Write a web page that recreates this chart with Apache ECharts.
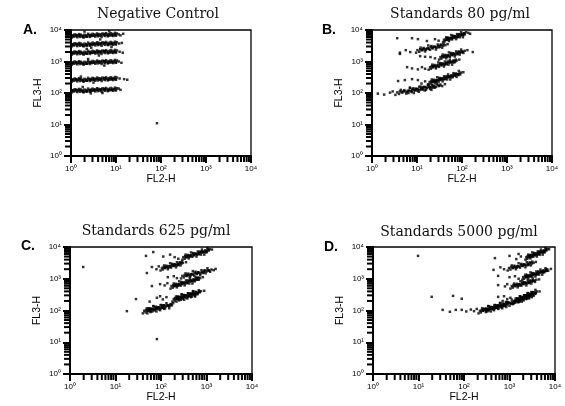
<!DOCTYPE html>
<html>
<head>
<meta charset="utf-8">
<script src="https://cdn.jsdelivr.net/npm/echarts@6/dist/echarts.min.js"></script>
<style>
  html, body { margin: 0; padding: 0; background: #fff; }
  #chart { width: 565px; height: 406px; }
</style>
</head>
<body>
<div id="chart"></div>
<script>
// Four flow-cytometry dot plots, FL2-H vs FL3-H on four-decade log scales.
// Every event is stored as [log10 FL2-H, log10 FL3-H].

const panelTitles = ['Negative Control', 'Standards 80 pg/ml', 'Standards 625 pg/ml', 'Standards 5000 pg/ml'];
const panelLetters = ['A.', 'B.', 'C.', 'D.'];
const decadeTicks = [0, 1, 2, 3, 4];
const decadeLabels = ['10\u2070', '10\u00B9', '10\u00B2', '10\u00B3', '10\u2074'];
const minorMultipliers = [2, 3, 4, 5, 6, 7, 8, 9];
const xAxisName = 'FL2-H';
const yAxisName = 'FL3-H';

// A. negative control: six bead populations, all low on FL2
const negControl = [
  // population 1
  [0.02,3.76],[0.04,3.83],[0.06,3.79],[0.08,3.86],[0.10,3.80],[0.12,3.84],[0.14,3.77],[0.16,3.82],[0.18,3.87],[0.20,3.78],[0.22,3.85],[0.24,3.80],[0.26,3.82],[0.28,3.76],[0.30,3.85],[0.32,3.79],[0.34,3.83],[0.36,3.79],[0.38,3.88],[0.40,3.83],[0.42,3.78],[0.44,3.85],[0.46,3.81],[0.48,3.88],[0.50,3.82],[0.52,3.86],[0.54,3.79],[0.56,3.84],[0.58,3.89],[0.60,3.80],[0.62,3.87],[0.64,3.82],[0.66,3.84],[0.68,3.78],[0.70,3.89],[0.72,3.83],[0.74,3.87],[0.76,3.81],[0.78,3.90],[0.80,3.85],[0.82,3.80],[0.84,3.87],[0.86,3.83],[0.88,3.90],[0.90,3.84],[0.92,3.88],[0.94,3.81],[0.96,3.86],[0.98,3.91],[1.00,3.82],[1.02,3.89],
  [0.03,3.82],[0.11,3.84],[0.19,3.83],[0.27,3.78],[0.35,3.79],[0.43,3.82],[0.51,3.83],[0.59,3.84],[0.67,3.86],[0.75,3.87],[0.83,3.82],[0.91,3.83],[0.99,3.84],
  [1.06,3.86],[1.10,3.83],[1.16,3.88],[0.30,3.95],[0.65,3.70],[0.85,3.96],
  // population 2
  [0.02,3.48],[0.04,3.55],[0.06,3.51],[0.08,3.58],[0.10,3.52],[0.12,3.56],[0.14,3.49],[0.16,3.54],[0.18,3.59],[0.20,3.50],[0.22,3.57],[0.24,3.52],[0.26,3.54],[0.28,3.48],[0.30,3.57],[0.32,3.51],[0.34,3.55],[0.36,3.51],[0.38,3.60],[0.40,3.55],[0.42,3.50],[0.44,3.57],[0.46,3.53],[0.48,3.60],[0.50,3.54],[0.52,3.58],[0.54,3.51],[0.56,3.56],[0.58,3.61],[0.60,3.52],[0.62,3.59],[0.64,3.54],[0.66,3.56],[0.68,3.50],[0.70,3.61],[0.72,3.55],[0.74,3.59],[0.76,3.53],[0.78,3.62],[0.80,3.57],[0.82,3.52],[0.84,3.59],[0.86,3.55],[0.88,3.62],[0.90,3.56],[0.92,3.60],[0.94,3.53],[0.96,3.58],[0.98,3.63],[1.00,3.54],[1.02,3.61],
  [0.03,3.54],[0.11,3.56],[0.19,3.55],[0.27,3.50],[0.35,3.51],[0.43,3.54],[0.51,3.55],[0.59,3.56],[0.67,3.58],[0.75,3.59],[0.83,3.54],[0.91,3.55],[0.99,3.56],
  [1.07,3.57],[1.13,3.59],[0.45,3.44],[0.90,3.46],
  // population 3
  [0.02,3.22],[0.04,3.29],[0.06,3.25],[0.08,3.32],[0.10,3.26],[0.12,3.30],[0.14,3.23],[0.16,3.28],[0.18,3.33],[0.20,3.24],[0.22,3.31],[0.24,3.26],[0.26,3.28],[0.28,3.22],[0.30,3.31],[0.32,3.25],[0.34,3.29],[0.36,3.25],[0.38,3.34],[0.40,3.29],[0.42,3.24],[0.44,3.31],[0.46,3.27],[0.48,3.34],[0.50,3.28],[0.52,3.32],[0.54,3.25],[0.56,3.30],[0.58,3.35],[0.60,3.26],[0.62,3.33],[0.64,3.28],[0.66,3.30],[0.68,3.24],[0.70,3.35],[0.72,3.29],[0.74,3.33],[0.76,3.27],[0.78,3.36],[0.80,3.31],[0.82,3.26],[0.84,3.33],[0.86,3.29],[0.88,3.36],[0.90,3.30],[0.92,3.34],[0.94,3.27],[0.96,3.32],[0.98,3.37],[1.00,3.28],[1.02,3.35],
  [0.03,3.28],[0.11,3.30],[0.19,3.29],[0.27,3.24],[0.35,3.25],[0.43,3.28],[0.51,3.29],[0.59,3.30],[0.67,3.32],[0.75,3.33],[0.83,3.28],[0.91,3.29],[0.99,3.30],
  [1.08,3.31],[1.15,3.28],[0.62,3.19],[0.35,3.40],
  // population 4
  [0.02,2.90],[0.04,2.97],[0.06,2.93],[0.08,3.00],[0.10,2.94],[0.12,2.98],[0.14,2.91],[0.16,2.96],[0.18,3.01],[0.20,2.92],[0.22,2.99],[0.24,2.94],[0.26,2.96],[0.28,2.90],[0.30,2.99],[0.32,2.93],[0.34,2.97],[0.36,2.93],[0.38,3.02],[0.40,2.97],[0.42,2.92],[0.44,2.99],[0.46,2.95],[0.48,3.02],[0.50,2.96],[0.52,3.00],[0.54,2.93],[0.56,2.98],[0.58,3.03],[0.60,2.94],[0.62,3.01],[0.64,2.96],[0.66,2.98],[0.68,2.92],[0.70,3.03],[0.72,2.97],[0.74,3.01],[0.76,2.95],[0.78,3.04],[0.80,2.99],[0.82,2.94],[0.84,3.01],[0.86,2.97],[0.88,3.04],[0.90,2.98],[0.92,3.02],[0.94,2.95],[0.96,3.00],[0.98,3.05],[1.00,2.96],[1.02,3.03],
  [0.03,2.96],[0.11,2.98],[0.19,2.97],[0.27,2.92],[0.35,2.93],[0.43,2.96],[0.51,2.97],[0.59,2.98],[0.67,3.00],[0.75,3.01],[0.83,2.96],[0.91,2.97],[0.99,2.98],
  [1.06,3.00],[1.12,2.96],[0.74,2.87],[0.38,3.08],
  // population 5
  [0.02,2.36],[0.04,2.43],[0.06,2.39],[0.08,2.46],[0.10,2.40],[0.12,2.44],[0.14,2.37],[0.16,2.42],[0.18,2.47],[0.20,2.38],[0.22,2.45],[0.24,2.40],[0.26,2.42],[0.28,2.36],[0.30,2.45],[0.32,2.39],[0.34,2.43],[0.36,2.39],[0.38,2.48],[0.40,2.43],[0.42,2.38],[0.44,2.45],[0.46,2.41],[0.48,2.48],[0.50,2.42],[0.52,2.46],[0.54,2.39],[0.56,2.44],[0.58,2.49],[0.60,2.40],[0.62,2.47],[0.64,2.42],[0.66,2.44],[0.68,2.38],[0.70,2.49],[0.72,2.43],[0.74,2.47],[0.76,2.41],[0.78,2.50],[0.80,2.45],[0.82,2.40],[0.84,2.47],[0.86,2.43],[0.88,2.50],[0.90,2.44],[0.92,2.48],[0.94,2.41],[0.96,2.46],[0.98,2.51],[1.00,2.42],[1.02,2.49],
  [0.03,2.42],[0.11,2.44],[0.19,2.43],[0.27,2.38],[0.35,2.39],[0.43,2.42],[0.51,2.43],[0.59,2.44],[0.67,2.46],[0.75,2.47],[0.83,2.42],[0.91,2.43],[0.99,2.44],
  [1.08,2.46],[1.18,2.44],[1.25,2.42],[0.50,2.33],[0.22,2.52],
  // population 6
  [0.02,2.02],[0.04,2.09],[0.06,2.05],[0.08,2.12],[0.10,2.06],[0.12,2.10],[0.14,2.03],[0.16,2.08],[0.18,2.13],[0.20,2.04],[0.22,2.11],[0.24,2.06],[0.26,2.08],[0.28,2.02],[0.30,2.11],[0.32,2.05],[0.34,2.09],[0.36,2.05],[0.38,2.14],[0.40,2.09],[0.42,2.04],[0.44,2.11],[0.46,2.07],[0.48,2.14],[0.50,2.08],[0.52,2.12],[0.54,2.05],[0.56,2.10],[0.58,2.15],[0.60,2.06],[0.62,2.13],[0.64,2.08],[0.66,2.10],[0.68,2.04],[0.70,2.15],[0.72,2.09],[0.74,2.13],[0.76,2.07],[0.78,2.16],[0.80,2.11],[0.82,2.06],[0.84,2.13],[0.86,2.09],[0.88,2.16],[0.90,2.10],[0.92,2.14],[0.94,2.07],[0.96,2.12],[0.98,2.17],[1.00,2.08],[1.02,2.15],
  [0.03,2.08],[0.11,2.10],[0.19,2.09],[0.27,2.04],[0.35,2.05],[0.43,2.08],[0.51,2.09],[0.59,2.10],[0.67,2.12],[0.75,2.13],[0.83,2.08],[0.91,2.09],[0.99,2.10],
  [1.10,2.10],[1.06,2.14],[0.44,1.99],[0.70,2.00],[0.26,2.19],
  // stray event
  [1.91,1.04]
];

// B. 80 pg/ml standards
const std80 = [
  [1.58,3.61],[1.60,3.69],[1.62,3.64],[1.65,3.77],[1.67,3.69],[1.69,3.76],[1.71,3.65],[1.73,3.74],[1.76,3.84],[1.78,3.70],[1.80,3.82],[1.82,3.75],[1.84,3.80],[1.87,3.71],[1.89,3.87],[1.91,3.78],[1.93,3.86],[1.95,3.77],[1.98,3.93],[2.00,3.85],[2.02,3.77],[2.04,3.90],[2.06,3.86],[2.09,3.93],
  [1.64,3.72],[1.66,3.69],[1.68,3.73],[1.70,3.72],[1.72,3.70],[1.75,3.75],[1.77,3.73],[1.79,3.79],[1.81,3.76],[1.83,3.80],[1.86,3.79],[1.88,3.77],[1.90,3.82],[1.92,3.80],[1.94,3.86],[1.97,3.83],[1.99,3.87],[2.01,3.86],[2.03,3.84],[2.05,3.89],
  [0.56,3.74],[0.89,3.74],[1.02,3.71],[1.22,3.65],[1.40,3.71],[1.48,3.66],[2.14,3.91],[2.18,3.88],

  [0.98,3.28],[1.01,3.36],[1.05,3.31],[1.08,3.44],[1.12,3.36],[1.15,3.43],[1.18,3.32],[1.22,3.41],[1.25,3.51],[1.29,3.37],[1.32,3.49],[1.35,3.42],[1.39,3.47],[1.42,3.38],[1.46,3.54],[1.49,3.45],[1.52,3.53],[1.56,3.44],[1.59,3.56],[1.63,3.52],
  [1.07,3.39],[1.10,3.36],[1.13,3.40],[1.17,3.39],[1.20,3.37],[1.24,3.42],[1.27,3.40],[1.30,3.46],[1.34,3.43],[1.37,3.47],[1.41,3.46],[1.44,3.44],[1.47,3.49],[1.51,3.47],[1.54,3.53],[1.58,3.50],
  [0.62,3.28],[0.75,3.36],[0.85,3.30],[1.68,3.55],

  [1.49,3.06],[1.52,3.14],[1.54,3.09],[1.57,3.22],[1.60,3.14],[1.63,3.21],[1.65,3.10],[1.68,3.19],[1.71,3.29],[1.73,3.15],[1.76,3.27],[1.79,3.20],[1.81,3.25],[1.84,3.16],[1.87,3.32],[1.90,3.23],[1.92,3.31],[1.95,3.22],[1.98,3.38],[2.00,3.30],[2.03,3.27],[2.06,3.34],
  [1.56,3.17],[1.58,3.14],[1.61,3.18],[1.64,3.17],[1.67,3.15],[1.69,3.20],[1.72,3.18],[1.75,3.24],[1.77,3.21],[1.80,3.25],[1.83,3.24],[1.85,3.22],[1.88,3.27],[1.91,3.25],[1.94,3.31],[1.96,3.28],[1.99,3.32],[2.02,3.31],
  [0.62,3.24],[1.07,3.17],[1.18,3.15],[1.30,3.14],[1.40,3.10],[2.24,3.30],[2.12,3.36],

  [1.26,2.74],[1.29,2.82],[1.31,2.77],[1.34,2.90],[1.36,2.82],[1.39,2.89],[1.42,2.78],[1.44,2.87],[1.47,2.97],[1.49,2.83],[1.52,2.95],[1.55,2.88],[1.57,2.93],[1.60,2.84],[1.62,3.00],[1.65,2.91],[1.68,2.99],[1.70,2.90],[1.73,3.06],[1.75,2.98],[1.78,2.90],[1.81,3.03],[1.83,2.97],[1.86,3.06],[1.88,3.03],
  [1.33,2.85],[1.35,2.82],[1.38,2.86],[1.40,2.85],[1.43,2.83],[1.46,2.88],[1.48,2.86],[1.51,2.92],[1.53,2.89],[1.56,2.93],[1.59,2.92],[1.61,2.90],[1.64,2.95],[1.66,2.93],[1.69,2.99],[1.72,2.96],[1.74,3.00],[1.77,2.99],[1.79,2.97],[1.82,3.02],[1.85,3.00],
  [0.78,2.82],[0.89,2.78],[1.02,2.75],[1.11,2.82],[1.18,2.77],[1.94,3.06],

  [1.26,2.27],[1.28,2.35],[1.31,2.30],[1.33,2.43],[1.36,2.35],[1.38,2.42],[1.40,2.31],[1.43,2.40],[1.45,2.50],[1.48,2.36],[1.50,2.48],[1.52,2.41],[1.55,2.46],[1.57,2.37],[1.60,2.53],[1.62,2.44],[1.64,2.52],[1.67,2.43],[1.69,2.59],[1.72,2.51],[1.74,2.43],[1.76,2.56],[1.79,2.50],[1.81,2.63],[1.84,2.55],[1.86,2.62],[1.88,2.51],[1.91,2.60],[1.93,2.70],[1.96,2.59],[1.98,2.65],
  [1.32,2.38],[1.34,2.35],[1.37,2.39],[1.39,2.38],[1.42,2.36],[1.44,2.41],[1.46,2.39],[1.49,2.45],[1.51,2.42],[1.54,2.46],[1.56,2.45],[1.58,2.43],[1.61,2.48],[1.63,2.46],[1.66,2.52],[1.68,2.49],[1.70,2.53],[1.73,2.52],[1.75,2.50],[1.78,2.55],[1.80,2.53],[1.82,2.59],[1.85,2.56],[1.87,2.60],[1.90,2.59],[1.92,2.57],[1.94,2.62],
  [0.58,2.38],[0.73,2.41],[0.89,2.44],[1.02,2.41],[1.18,2.37],[1.10,2.30],[2.03,2.66],

  [0.52,1.94],[0.56,2.02],[0.60,1.97],[0.64,2.10],[0.68,2.02],[0.72,2.09],[0.76,1.98],[0.80,2.07],[0.84,2.17],[0.88,2.03],[0.92,2.15],[0.96,2.08],[1.00,2.13],[1.04,2.04],[1.08,2.20],[1.12,2.11],[1.16,2.19],[1.20,2.10],[1.24,2.26],[1.28,2.18],[1.32,2.10],[1.36,2.23],[1.40,2.17],[1.44,2.30],[1.48,2.22],[1.52,2.27],[1.56,2.22],
  [0.62,2.05],[0.66,2.02],[0.70,2.06],[0.74,2.05],[0.78,2.03],[0.82,2.08],[0.86,2.06],[0.90,2.12],[0.94,2.09],[0.98,2.13],[1.02,2.12],[1.06,2.10],[1.10,2.15],[1.14,2.13],[1.18,2.19],[1.22,2.16],[1.26,2.20],[1.30,2.19],[1.34,2.17],[1.38,2.22],[1.42,2.20],[1.46,2.26],[1.50,2.23],
  [0.81,2.00],[0.85,2.16],[0.89,2.08],[0.93,2.00],[0.97,2.13],[1.01,2.07],[1.05,2.20],[1.09,2.12],[1.13,2.19],[1.17,2.08],[1.21,2.17],[1.25,2.27],[1.29,2.13],[1.33,2.25],[1.37,2.18],
  [0.13,1.98],[0.27,1.95],[0.40,2.01],[0.46,2.05],[1.62,2.28]
];

// C. 625 pg/ml standards
const std625 = [
  [2.47,3.60],[2.49,3.68],[2.52,3.63],[2.54,3.76],[2.57,3.68],[2.59,3.75],[2.61,3.64],[2.64,3.73],[2.66,3.83],[2.69,3.69],[2.71,3.81],[2.73,3.74],[2.76,3.79],[2.78,3.70],[2.81,3.86],[2.83,3.77],[2.85,3.85],[2.88,3.76],[2.90,3.92],[2.93,3.84],[2.95,3.76],[2.97,3.89],[3.00,3.83],[3.02,3.96],[3.05,3.89],[3.07,3.93],
  [2.53,3.71],[2.55,3.68],[2.58,3.72],[2.60,3.71],[2.63,3.69],[2.65,3.74],[2.67,3.72],[2.70,3.78],[2.72,3.75],[2.75,3.79],[2.77,3.78],[2.79,3.76],[2.82,3.81],[2.84,3.79],[2.87,3.85],[2.89,3.82],[2.91,3.86],[2.94,3.85],[2.96,3.83],[2.99,3.88],[3.01,3.86],[3.03,3.92],
  [1.67,3.72],[1.83,3.84],[2.05,3.70],[2.20,3.76],[2.30,3.68],[2.38,3.63],[3.12,3.92],

  [1.99,3.26],[2.02,3.34],[2.04,3.29],[2.07,3.42],[2.09,3.34],[2.12,3.41],[2.15,3.30],[2.17,3.39],[2.20,3.49],[2.22,3.35],[2.25,3.47],[2.28,3.40],[2.30,3.45],[2.33,3.36],[2.35,3.52],[2.38,3.43],[2.41,3.51],[2.43,3.42],[2.46,3.54],[2.48,3.50],
  [2.06,3.37],[2.08,3.34],[2.11,3.38],[2.13,3.37],[2.16,3.35],[2.19,3.40],[2.21,3.38],[2.24,3.44],[2.26,3.41],[2.29,3.45],[2.32,3.44],[2.34,3.42],[2.37,3.47],[2.39,3.45],[2.42,3.51],[2.45,3.48],
  [1.69,3.18],[1.80,3.37],[1.90,3.30],[1.95,3.39],[2.55,3.52],

  [2.44,3.01],[2.47,3.09],[2.50,3.04],[2.54,3.17],[2.57,3.09],[2.60,3.16],[2.63,3.05],[2.66,3.14],[2.70,3.24],[2.73,3.10],[2.76,3.22],[2.79,3.15],[2.82,3.20],[2.86,3.11],[2.89,3.27],[2.92,3.18],[2.95,3.26],[2.98,3.17],[3.02,3.33],[3.05,3.25],[3.08,3.22],[3.11,3.29],
  [2.52,3.12],[2.55,3.09],[2.58,3.13],[2.62,3.12],[2.65,3.10],[2.68,3.15],[2.71,3.13],[2.74,3.19],[2.78,3.16],[2.81,3.20],[2.84,3.19],[2.87,3.17],[2.90,3.22],[2.94,3.20],[2.97,3.26],[3.00,3.23],[3.03,3.27],[3.06,3.26],
  [2.15,3.05],[2.28,3.08],[2.35,3.02],[3.16,3.27],[3.20,3.31],

  [2.21,2.69],[2.23,2.77],[2.26,2.72],[2.28,2.85],[2.31,2.77],[2.33,2.84],[2.35,2.73],[2.38,2.82],[2.40,2.92],[2.43,2.78],[2.45,2.90],[2.47,2.83],[2.50,2.88],[2.52,2.79],[2.55,2.95],[2.57,2.86],[2.59,2.94],[2.62,2.85],[2.64,3.01],[2.67,2.93],[2.69,2.85],[2.71,2.98],[2.74,2.92],[2.76,3.05],[2.79,2.97],[2.81,3.04],[2.83,2.97],[2.86,3.02],
  [2.27,2.80],[2.29,2.77],[2.32,2.81],[2.34,2.80],[2.37,2.78],[2.39,2.83],[2.41,2.81],[2.44,2.87],[2.46,2.84],[2.49,2.88],[2.51,2.87],[2.53,2.85],[2.56,2.90],[2.58,2.88],[2.61,2.94],[2.63,2.91],[2.65,2.95],[2.68,2.94],[2.70,2.92],[2.73,2.97],[2.75,2.95],[2.77,3.01],[2.80,2.98],[2.82,3.02],
  [1.80,2.77],[1.98,2.83],[2.08,2.79],[2.14,2.86],[2.92,3.05],

  [2.25,2.28],[2.28,2.36],[2.30,2.31],[2.33,2.44],[2.35,2.36],[2.38,2.43],[2.40,2.32],[2.43,2.41],[2.45,2.51],[2.48,2.37],[2.50,2.49],[2.53,2.42],[2.55,2.47],[2.58,2.38],[2.60,2.54],[2.63,2.45],[2.65,2.53],[2.68,2.44],[2.70,2.60],[2.73,2.52],[2.75,2.44],[2.78,2.57],[2.80,2.51],[2.83,2.64],[2.85,2.57],[2.88,2.61],
  [2.31,2.39],[2.34,2.36],[2.36,2.40],[2.39,2.39],[2.41,2.37],[2.44,2.42],[2.46,2.40],[2.49,2.46],[2.51,2.43],[2.54,2.47],[2.56,2.46],[2.59,2.44],[2.61,2.49],[2.64,2.47],[2.66,2.53],[2.69,2.50],[2.71,2.54],[2.74,2.53],[2.76,2.51],[2.79,2.56],[2.81,2.54],[2.84,2.60],
  [2.34,2.28],[2.36,2.44],[2.39,2.35],[2.41,2.43],[2.44,2.34],[2.46,2.50],[2.49,2.42],[2.51,2.34],[2.54,2.47],[2.56,2.41],[2.59,2.54],[2.61,2.46],[2.64,2.53],[2.66,2.42],[2.69,2.51],[2.71,2.61],[2.74,2.47],[2.76,2.59],
  [1.45,2.36],[1.75,2.28],[1.91,2.40],[2.04,2.35],[2.12,2.42],[1.98,2.45],[2.95,2.62],

  [1.60,1.91],[1.63,1.99],[1.66,1.94],[1.69,2.07],[1.72,1.99],[1.75,2.06],[1.77,1.95],[1.80,2.04],[1.83,2.14],[1.86,2.00],[1.89,2.12],[1.92,2.05],[1.95,2.10],[1.98,2.01],[2.01,2.17],[2.04,2.08],[2.06,2.16],[2.09,2.07],[2.12,2.23],[2.15,2.15],[2.18,2.07],[2.21,2.20],[2.24,2.16],[2.27,2.23],
  [1.67,2.02],[1.70,1.99],[1.73,2.03],[1.76,2.02],[1.79,2.00],[1.82,2.05],[1.85,2.03],[1.88,2.09],[1.90,2.06],[1.93,2.10],[1.96,2.09],[1.99,2.07],[2.02,2.12],[2.05,2.10],[2.08,2.16],[2.11,2.13],[2.14,2.17],[2.17,2.16],[2.19,2.14],[2.22,2.19],
  [1.70,1.91],[1.73,2.07],[1.76,1.98],[1.78,2.06],[1.81,1.97],[1.84,2.13],[1.87,2.05],[1.90,1.97],[1.93,2.10],[1.96,2.04],[1.99,2.17],[2.02,2.09],[2.05,2.16],[2.07,2.05],
  [0.29,3.37],[1.25,1.98],[1.91,1.10]
];

// D. 5000 pg/ml standards
const std5000 = [
  [3.35,3.60],[3.37,3.68],[3.39,3.63],[3.41,3.76],[3.43,3.68],[3.45,3.75],[3.46,3.64],[3.48,3.73],[3.50,3.83],[3.52,3.69],[3.54,3.81],[3.56,3.74],[3.58,3.79],[3.60,3.70],[3.62,3.86],[3.64,3.77],[3.65,3.85],[3.67,3.76],[3.69,3.92],[3.71,3.84],[3.73,3.76],[3.75,3.89],[3.77,3.83],[3.79,3.96],[3.81,3.89],[3.83,3.93],
  [3.40,3.71],[3.42,3.68],[3.44,3.72],[3.45,3.71],[3.47,3.69],[3.49,3.74],[3.51,3.72],[3.53,3.78],[3.55,3.75],[3.57,3.79],[3.59,3.78],[3.61,3.76],[3.63,3.81],[3.64,3.79],[3.66,3.85],[3.68,3.82],[3.70,3.86],[3.72,3.85],[3.74,3.83],[3.76,3.88],[3.78,3.86],[3.80,3.92],
  [2.68,3.65],[3.00,3.72],[3.15,3.62],[3.25,3.70],[3.20,3.78],[3.87,3.93],[0.99,3.72],

  [2.96,3.26],[2.99,3.34],[3.02,3.29],[3.05,3.42],[3.08,3.34],[3.11,3.41],[3.14,3.30],[3.17,3.39],[3.20,3.49],[3.23,3.35],[3.26,3.47],[3.29,3.40],[3.32,3.45],[3.35,3.36],[3.38,3.52],[3.41,3.43],[3.44,3.51],[3.47,3.42],[3.50,3.54],[3.53,3.50],
  [3.04,3.37],[3.07,3.34],[3.10,3.38],[3.13,3.37],[3.16,3.35],[3.19,3.40],[3.22,3.38],[3.25,3.44],[3.28,3.41],[3.31,3.45],[3.34,3.44],[3.37,3.42],[3.40,3.47],[3.43,3.45],[3.46,3.51],[3.49,3.48],
  [2.65,3.28],[2.80,3.36],[2.88,3.30],[3.58,3.53],

  [3.28,2.97],[3.30,3.05],[3.32,3.00],[3.35,3.13],[3.37,3.05],[3.39,3.12],[3.41,3.01],[3.43,3.10],[3.46,3.20],[3.48,3.06],[3.50,3.18],[3.52,3.11],[3.54,3.16],[3.57,3.07],[3.59,3.23],[3.61,3.14],[3.63,3.22],[3.65,3.13],[3.68,3.29],[3.70,3.21],[3.72,3.13],[3.74,3.26],[3.76,3.20],[3.79,3.33],[3.81,3.25],[3.83,3.30],[3.85,3.25],
  [3.34,3.08],[3.36,3.05],[3.38,3.09],[3.40,3.08],[3.42,3.06],[3.45,3.11],[3.47,3.09],[3.49,3.15],[3.51,3.12],[3.53,3.16],[3.56,3.15],[3.58,3.13],[3.60,3.18],[3.62,3.16],[3.64,3.22],[3.67,3.19],[3.69,3.23],[3.71,3.22],[3.73,3.20],[3.75,3.25],[3.78,3.23],[3.80,3.29],[3.82,3.26],
  [2.75,3.09],[3.00,3.05],[3.12,3.08],[3.20,3.00],[3.91,3.31],

  [3.02,2.69],[3.05,2.77],[3.07,2.72],[3.10,2.85],[3.13,2.77],[3.16,2.84],[3.18,2.73],[3.21,2.82],[3.24,2.92],[3.26,2.78],[3.29,2.90],[3.32,2.83],[3.34,2.88],[3.37,2.79],[3.40,2.95],[3.43,2.86],[3.45,2.94],[3.48,2.85],[3.51,3.01],[3.53,2.93],[3.56,2.90],[3.59,2.97],
  [3.09,2.80],[3.11,2.77],[3.14,2.81],[3.17,2.80],[3.20,2.78],[3.22,2.83],[3.25,2.81],[3.28,2.87],[3.30,2.84],[3.33,2.88],[3.36,2.87],[3.38,2.85],[3.41,2.90],[3.44,2.88],[3.47,2.94],[3.49,2.91],[3.52,2.95],[3.55,2.94],
  [2.75,2.80],[2.90,2.76],[2.95,2.83],[3.65,2.98],

  [3.09,2.22],[3.11,2.30],[3.12,2.25],[3.14,2.38],[3.16,2.30],[3.18,2.37],[3.19,2.26],[3.21,2.35],[3.23,2.45],[3.24,2.31],[3.26,2.43],[3.28,2.36],[3.29,2.41],[3.31,2.32],[3.33,2.48],[3.35,2.39],[3.36,2.47],[3.38,2.38],[3.40,2.54],[3.41,2.46],[3.43,2.38],[3.45,2.51],[3.46,2.45],[3.48,2.58],[3.50,2.50],[3.52,2.57],[3.53,2.46],[3.55,2.55],[3.57,2.65],[3.58,2.54],[3.60,2.60],
  [3.13,2.33],[3.15,2.30],[3.17,2.34],[3.18,2.33],[3.20,2.31],[3.22,2.36],[3.23,2.34],[3.25,2.40],[3.27,2.37],[3.29,2.41],[3.30,2.40],[3.32,2.38],[3.34,2.43],[3.35,2.41],[3.37,2.47],[3.39,2.44],[3.40,2.48],[3.42,2.47],[3.44,2.45],[3.46,2.50],[3.47,2.48],[3.49,2.54],[3.51,2.51],[3.52,2.55],[3.54,2.54],[3.56,2.52],[3.57,2.57],
  [3.17,2.38],[3.20,2.37],[3.23,2.44],[3.27,2.28],[3.30,2.35],[3.34,2.40],[3.37,2.36],[3.40,2.55],[3.44,2.53],[3.47,2.51],[3.51,2.58],
  [3.18,2.29],[3.22,2.28],[3.25,2.36],[3.28,2.41],[3.32,2.48],[3.35,2.47],[3.38,2.45],[3.42,2.41],[3.45,2.46],[3.49,2.42],
  [2.75,2.43],[2.85,2.30],[2.95,2.36],[3.02,2.40],[2.88,2.45],[3.66,2.60],

  [2.32,1.91],[2.35,1.99],[2.37,1.94],[2.40,2.07],[2.42,1.99],[2.45,2.06],[2.48,1.95],[2.50,2.04],[2.53,2.14],[2.55,2.00],[2.58,2.12],[2.61,2.05],[2.63,2.10],[2.66,2.01],[2.68,2.17],[2.71,2.08],[2.74,2.16],[2.76,2.07],[2.79,2.23],[2.81,2.15],[2.84,2.07],[2.87,2.20],[2.89,2.14],[2.92,2.27],[2.94,2.19],[2.97,2.26],[3.00,2.15],[3.02,2.24],[3.05,2.34],[3.07,2.20],[3.10,2.29],[3.13,2.26],
  [2.39,2.02],[2.41,1.99],[2.44,2.03],[2.46,2.02],[2.49,2.00],[2.52,2.05],[2.54,2.03],[2.57,2.09],[2.59,2.06],[2.62,2.10],[2.65,2.09],[2.67,2.07],[2.70,2.12],[2.72,2.10],[2.75,2.16],[2.78,2.13],[2.80,2.17],[2.83,2.16],[2.85,2.14],[2.88,2.19],[2.91,2.17],[2.93,2.23],[2.96,2.20],[2.98,2.24],[3.01,2.23],[3.04,2.21],[3.06,2.26],[3.09,2.24],
  [2.49,2.06],[2.51,1.97],[2.54,2.13],[2.56,2.05],[2.59,1.97],[2.62,2.10],[2.64,2.04],[2.67,2.17],[2.69,2.09],[2.72,2.16],[2.75,2.05],[2.77,2.14],[2.80,2.24],[2.82,2.10],[2.85,2.22],[2.88,2.15],[2.90,2.20],[2.93,2.11],[2.95,2.27],
  [2.05,1.97],[2.15,2.03],[2.22,1.98],[2.28,2.05],[3.20,2.27],
  [1.29,2.43],[1.76,2.46],[1.95,2.37],[1.53,2.02],[1.69,1.96],[1.82,2.02],[1.95,2.02]
];

const panelData = [negControl, std80, std625, std5000];

// Minor tick positions inside each decade (2x..9x)
const minorTickPos = [];
decadeTicks.slice(0, 4).forEach(function (d) {
  minorMultipliers.forEach(function (m) { minorTickPos.push(d + Math.log10(m)); });
});

const grids = [
  { left: 71, top: 30, width: 180, height: 126 },
  { left: 372, top: 30, width: 180, height: 126 },
  { left: 70, top: 247, width: 182, height: 127 },
  { left: 373, top: 247, width: 182, height: 127 }
];
const titlePos = [[158, 14], [460, 14], [156, 231], [459, 232]];
const letterPos = [[23, 30], [322, 30], [21, 246], [324, 247]];

const INK = '#000';
const tickFont = { fontFamily: 'Liberation Sans', fontSize: 8, color: INK };
function decadeLabel(v) { return decadeLabels[Math.round(v)]; }

const option = {
  animation: false,
  backgroundColor: '#fff',
  grid: grids.map(function (g) {
    return Object.assign({ show: true, borderColor: INK, borderWidth: 1.3, containLabel: false }, g);
  }),
  xAxis: grids.map(function (g, i) {
    return {
      gridIndex: i, type: 'value', min: 0, max: 4, interval: 1,
      name: xAxisName, nameLocation: 'middle', nameGap: 15,
      nameTextStyle: { fontFamily: 'Liberation Sans', fontSize: 10.5, color: INK },
      axisLine: { lineStyle: { color: INK, width: 2 } },
      axisTick: { show: true, length: 7, lineStyle: { color: INK, width: 2 } },
      axisLabel: Object.assign({ margin: 9, formatter: decadeLabel }, tickFont),
      splitLine: { show: false }
    };
  }),
  yAxis: grids.map(function (g, i) {
    return {
      gridIndex: i, type: 'value', min: 0, max: 4, interval: 1,
      name: yAxisName, nameLocation: 'middle', nameGap: 27, nameRotate: 90,
      nameTextStyle: { fontFamily: 'Liberation Sans', fontSize: 10.5, color: INK },
      axisLine: { lineStyle: { color: INK, width: 2 } },
      axisTick: { show: true, length: 7, lineStyle: { color: INK, width: 2 } },
      axisLabel: Object.assign({ margin: 9, formatter: decadeLabel }, tickFont),
      splitLine: { show: false }
    };
  }),
  series: [],
  graphic: []
};

panelData.forEach(function (data, i) {
  option.series.push({
    type: 'scatter', xAxisIndex: i, yAxisIndex: i, data: data,
    symbol: 'rect', symbolSize: 2.5, silent: true,
    itemStyle: { color: INK }
  });
  // log minor ticks below the FL2 axis
  option.series.push({
    type: 'custom', xAxisIndex: i, yAxisIndex: i, clip: false, silent: true,
    data: minorTickPos.map(function (v) { return [v, 0]; }),
    renderItem: function (params, api) {
      const p = api.coord([api.value(0), 0]);
      return { type: 'line', shape: { x1: p[0], y1: p[1], x2: p[0], y2: p[1] + 6 },
               style: { stroke: INK, lineWidth: 2 } };
    }
  });
  // log minor ticks left of the FL3 axis
  option.series.push({
    type: 'custom', xAxisIndex: i, yAxisIndex: i, clip: false, silent: true,
    data: minorTickPos.map(function (v) { return [0, v]; }),
    renderItem: function (params, api) {
      const p = api.coord([0, api.value(1)]);
      return { type: 'line', shape: { x1: p[0], y1: p[1], x2: p[0] - 6, y2: p[1] },
               style: { stroke: INK, lineWidth: 2 } };
    }
  });
  option.graphic.push({
    type: 'text', x: titlePos[i][0], y: titlePos[i][1], silent: true,
    style: { text: panelTitles[i], fontFamily: 'DejaVu Serif', fontSize: 14, fill: '#111',
             align: 'center', verticalAlign: 'middle', textAlign: 'center', textVerticalAlign: 'middle' }
  });
  option.graphic.push({
    type: 'text', x: letterPos[i][0], y: letterPos[i][1], silent: true,
    style: { text: panelLetters[i], fontFamily: 'Liberation Sans', fontSize: 14, fontWeight: 'bold', fill: INK,
             align: 'left', verticalAlign: 'middle', textAlign: 'left', textVerticalAlign: 'middle' }
  });
});

const chart = echarts.init(document.getElementById('chart'), null, { renderer: 'canvas' });
chart.setOption(option);
</script>
</body>
</html>
